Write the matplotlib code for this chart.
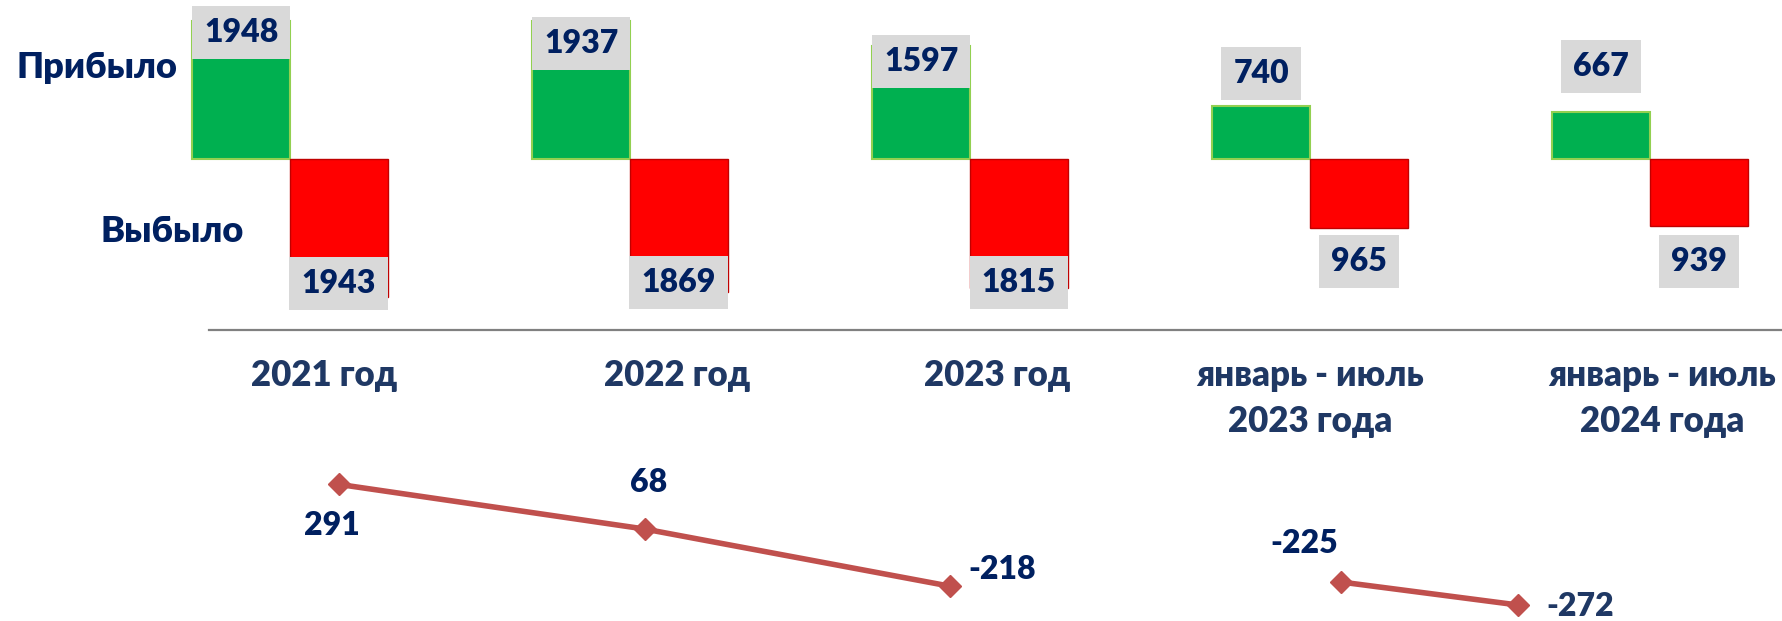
import matplotlib.pyplot as plt
import numpy as np

# arrivals / departures by period, plus the two net-change lines underneath
categories = ["2021 год", "2022 год", "2023 год",
              "январь - июль\n2023 года", "январь - июль\n2024 года"]
arrived = [1948, 1937, 1597, 740, 667]
departed = [1943, 1869, 1815, 965, 939]
net_years = [291, 68, -218]
net_months = [-225, -272]

NAVY = "#002060"
SLATE = "#1F3864"
W, H = 1783, 621

plt.rcParams["font.family"] = ["Lato", "DejaVu Sans"]
plt.rcParams["font.weight"] = "heavy"

fig = plt.figure(figsize=(W / 100, H / 100), dpi=100)

# --- bars ---------------------------------------------------------------
ax = fig.add_axes([209 / W, (H - 329.5) / H, 1 - 209 / W, 329.5 / H])
x = np.arange(len(categories))
bw = 0.287
ax.bar(x - bw / 2, arrived, bw, color="#00B050", edgecolor="#92D050",
       linewidth=1.5, clip_on=False)
ax.bar(x + bw / 2, [-v for v in departed], bw, color="#FF0000",
       edgecolor="#C00000", linewidth=1, clip_on=False)
ax.set_xlim(-0.238, 4.391)
ax.set_ylim(-2401, 2239)

box = dict(boxstyle="square,pad=0.38", facecolor="#D9D9D9", edgecolor="none")
# label offsets from the bar end, pixels (labels were placed by hand in the original)
up_off = [-12, -22, -16, 33, 45]
down_off = [13.5, 9, 5.5, -34, -36]
for i in range(len(x)):
    ax.annotate(str(arrived[i]), (x[i] - bw / 2, arrived[i]), xytext=(0, up_off[i]),
                textcoords="offset pixels", ha="center", va="center",
                fontsize=23, color=NAVY, bbox=box, zorder=5)
    ax.annotate(str(departed[i]), (x[i] + bw / 2, -departed[i]), xytext=(0, down_off[i]),
                textcoords="offset pixels", ha="center", va="center",
                fontsize=23, color=NAVY, bbox=box, zorder=5)

for s in ["top", "left", "right"]:
    ax.spines[s].set_visible(False)
ax.spines["bottom"].set_color("#808080")
ax.spines["bottom"].set_linewidth(1.6)
ax.set_yticks([])
shift = [0.1, 0.14, 0.08, 0.0, 0.035]
ax.set_xticks(x + np.array(shift))
ax.set_xticklabels(categories, fontsize=25, color=SLATE, linespacing=1.5)
ax.tick_params(axis="x", length=0, pad=21)

fig.text(97 / W, 1 - 67 / H, "Прибыло", fontsize=26, color=NAVY,
         ha="center", va="center")
fig.text(172 / W, 1 - 232 / H, "Выбыло", fontsize=26, color=NAVY,
         ha="center", va="center")

# --- net-change lines ---------------------------------------------------
line_kw = dict(color="#C0504D", linewidth=4, marker="D", markersize=11)

ax1 = fig.add_axes([0, 0, 1, 1])
ax1.plot(range(len(net_years)), net_years, **line_kw)
ax1.set_xlim(-1.1097, 4.7267)
ax1.set_ylim(-392, 2713)
ax1.axis("off")
off1 = [(-7, -41), (4, 46), (52, 17)]
for i, v in enumerate(net_years):
    ax1.annotate(str(v), (i, v), xytext=off1[i], textcoords="offset pixels",
                 ha="center", va="center", fontsize=23, color=NAVY)

ax2 = fig.add_axes([0, 0, 1, 1])
ax2.plot(range(len(net_months)), net_months, **line_kw)
ax2.set_xlim(-7.576, 2.497)
ax2.set_ylim(-304.7, 965)
ax2.axis("off")
off2 = [(-37, 39), (62, -1)]
cols2 = [NAVY, SLATE]
for i, v in enumerate(net_months):
    ax2.annotate(str(v), (i, v), xytext=off2[i], textcoords="offset pixels",
                 ha="center", va="center", fontsize=23, color=cols2[i])

fig.savefig("out.png", dpi=100)
